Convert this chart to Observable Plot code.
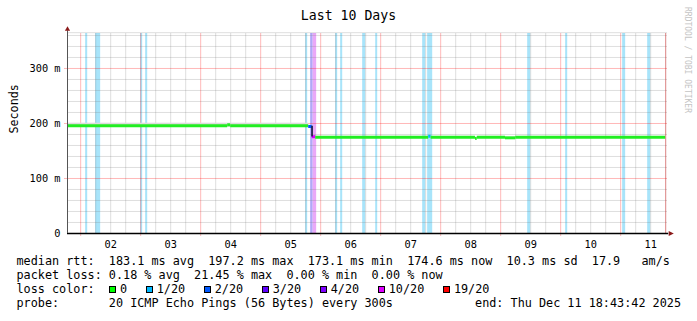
<!DOCTYPE html>
<html><head><meta charset="utf-8">
<script src="https://cdn.jsdelivr.net/npm/d3@7"></script>
<script src="https://cdn.jsdelivr.net/npm/@observablehq/plot@0.6"></script>
<style>
html,body{margin:0;padding:0;background:#fff;}
#wrap{position:relative;width:697px;height:321px;overflow:hidden;font-family:"DejaVu Sans Mono",monospace;color:#000;}
#wrap svg{position:absolute;left:0;top:0;overflow:visible;}
.title{position:absolute;left:0;top:7.7px;width:697px;text-align:center;font-size:13.2px;line-height:16px;white-space:pre;}
.wm{position:absolute;left:682.5px;top:7px;writing-mode:vertical-rl;font-size:8px;line-height:8px;color:#c4c4c4;white-space:pre;}
.row{position:absolute;left:16.5px;height:14px;font-size:11.8px;line-height:14px;white-space:pre;}
.rowr{position:absolute;right:16px;height:14px;font-size:11.8px;line-height:14px;white-space:pre;}
.sws{position:absolute;left:109px;height:14px;display:flex;align-items:center;font-size:11.8px;line-height:14px;white-space:pre;}
.item{display:flex;align-items:center;margin-right:18.6px;}
.sw{display:inline-block;width:7px;height:7px;box-sizing:border-box;border:1px solid #000;margin-right:4px;}
</style></head>
<body><div id="wrap"></div>
<script>
// ---- data ----
const titleText = "Last 10 Days";
const yLabel = "Seconds";
const watermark = "RRDTOOL / TOBI OETIKER";
// time axis in "day of December" units
const xStart = 1 + (18 + 43/60 + 42/3600) / 24;   // Dec 1 18:43:42
const xEnd = xStart + 10;                          // Dec 11 18:43:42
const lastUpdate = 11.75;
const dayTicks = [2, 3, 4, 5, 6, 7, 8, 9, 10, 11];
const dayLabelPos = [2.5, 3.5, 4.5, 5.5, 6.5, 7.5, 8.5, 9.5, 10.5, 11.5];
const dayLabels = ["02", "03", "04", "05", "06", "07", "08", "09", "10", "11"];
const yMax = 363.6; // ms
const yTicks = [0, 100, 200, 300];
const yTickLabels = ["0", "100 m", "200 m", "300 m"];

// loss background bars
const lossStart = [2.083, 2.25, 3.0, 3.083, 5.75, 5.833, 5.875, 6.25, 6.333, 6.7, 6.917, 7.7, 7.783, 9.45, 10.083, 11.033, 11.45];
const lossEnd   = [2.117, 2.333, 3.033, 3.117, 5.783, 5.875, 5.933, 6.283, 6.367, 6.75, 6.95, 7.75, 7.867, 9.5, 10.117, 11.083, 11.5];
const lossLevel = [1, 1, 1, 1, 1, 4, 10, 1, 1, 1, 1, 1, 1, 1, 1, 1, 1];

// median rtt segments (ms)
const medX1   = [xStart, 4.45, 4.50, 5.80, 5.858, 5.917, 7.80, 7.84, 8.58, 8.61, 9.08, 9.25];
const medX2   = [4.45, 4.50, 5.80, 5.858, 5.917, 7.80, 7.84, 8.58, 8.61, 9.08, 9.25, lastUpdate];
const medY    = [196, 197.6, 196, 194.5, 176, 175, 176.8, 175, 173, 175, 174, 175];
const medLoss = [0, 0, 0, 2, 10, 0, 1, 0, 0, 0, 0, 0];
const stepX = [5.856], stepFrom = [195], stepTo = [175.5];

// smoke band
const smokeX1 = [xStart], smokeX2 = [5.80], smokeLo = [193], smokeHi = [200.5];

// legend
const lossLevels = [0, 1, 2, 3, 4, 10, 19];
const lossLabels = ["0", "1/20", "2/20", "3/20", "4/20", "10/20", "19/20"];
const lossColors = ["#22ee22", "#00b8ff", "#0059ff", "#5e00ff", "#7e00ff", "#dd00ff", "#ff0000"];
const lossBgColors = ["#ffffff", "#a8e4fa", "#a8c4fa", "#b0a8f8", "#b0a8f8", "#eaa8f8", "#f8a8a8"];
const rttStats = ["183.1 ms avg", "197.2 ms max", "173.1 ms min", "174.6 ms now", "10.3 ms sd", "17.9   am/s"];
const lossStats = ["0.18 % avg", "21.45 % max", "0.00 % min", "0.00 % now"];
const probeText = "20 ICMP Echo Pings (56 Bytes) every 300s";
const endText = "end: Thu Dec 11 18:43:42 2025";

// ---- drawing ----
const lvlColor = l => lossColors[lossLevels.indexOf(l)];
const lvlBg = l => lossBgColors[lossLevels.indexOf(l)];
const minorX = d3.range(1.75, 11.8, 0.25).filter(d => d > xStart && d < xEnd && !dayTicks.includes(d));
const minorY = d3.range(20, 361, 20).filter(d => !yTicks.includes(d));
const idx = a => a.map((_, i) => i);

const triUp = {draw(c){ c.moveTo(0, -2.4); c.lineTo(2.6, 2.3); c.lineTo(-2.6, 2.3); c.closePath(); }};
const triRight = {draw(c){ c.moveTo(3.3, 0); c.lineTo(-1.8, -2.6); c.lineTo(-1.8, 2.6); c.closePath(); }};

const chart = Plot.plot({
  width: 697, height: 250,
  marginLeft: 67, marginRight: 30, marginTop: 33, marginBottom: 17,
  x: {domain: [xStart, xEnd], axis: null},
  y: {domain: [0, yMax], axis: null},
  color: {type: "identity"},
  style: {fontFamily: "'DejaVu Sans Mono', monospace", fontSize: "10.3px", color: "#000", background: "transparent", overflow: "visible"},
  marks: [
    Plot.rect(idx(lossStart), {x1: i => lossStart[i], x2: i => lossEnd[i], y1: 0, y2: yMax, fill: i => lvlBg(lossLevel[i])}),
    Plot.ruleX(minorX, {y1: 0, y2: yMax, stroke: "#808080", strokeOpacity: 0.25}),
    Plot.ruleY(minorY, {x1: xStart, x2: xEnd, stroke: "#808080", strokeOpacity: 0.25}),
    Plot.ruleY([yMax + 1.5], {x1: xStart, x2: xEnd, stroke: "#808080", strokeOpacity: 0.25}),
    Plot.ruleX(dayTicks, {y1: -5.5, y2: yMax, stroke: "#ff0000", strokeOpacity: 0.28}),
    Plot.ruleY(yTicks.slice(1), {x1: xStart - 0.05, x2: xEnd, stroke: "#ff0000", strokeOpacity: 0.28}),
    Plot.ruleX([lastUpdate], {y1: 0, y2: yMax, stroke: "#e02020", strokeOpacity: 0.45}),
    Plot.rect(idx(smokeX1), {x1: i => smokeX1[i], x2: i => smokeX2[i], y1: i => smokeLo[i], y2: i => smokeHi[i], fill: "#dcdcdc"}),
    Plot.ruleY(idx(medY), {y: i => medY[i], x1: i => medX1[i], x2: i => medX2[i], stroke: i => lvlColor(medLoss[i]), strokeWidth: 3}),
    Plot.ruleX(idx(stepX), {x: i => stepX[i], y1: i => stepFrom[i], y2: i => stepTo[i], stroke: "#14143a", strokeWidth: 1.6}),
    Plot.ruleY([0], {x1: xStart, x2: xEnd + 0.02, stroke: "#000", strokeWidth: 1.5}),
    Plot.ruleX([xStart], {y1: 0, y2: yMax + 5, stroke: "#555"}),
    Plot.dot([0], {x: xEnd + 0.05, y: 0, symbol: triRight, fill: "#8b1a1a", stroke: null, r: 3}),
    Plot.dot([0], {x: xStart, y: yMax + 9, symbol: triUp, fill: "#8b1a1a", stroke: null, r: 3}),
    Plot.axisX(dayLabelPos, {tickSize: 0, tickPadding: 7, tickFormat: d => dayLabels[dayLabelPos.indexOf(d)], fontSize: 10.3}),
    Plot.axisY(yTicks, {tickSize: 0, tickPadding: 7, tickFormat: d => yTickLabels[yTicks.indexOf(d)], fontSize: 10.3, label: null}),
    Plot.text([yLabel], {frameAnchor: "left", dx: -53, rotate: -90, fontSize: 11.7, fill: "#000"})
  ]
});

const wrap = document.getElementById("wrap");
wrap.appendChild(chart);

function addDiv(cls, text, style) {
  const d = document.createElement("div");
  d.className = cls;
  if (text != null) d.textContent = text;
  if (style) d.setAttribute("style", style);
  wrap.appendChild(d);
  return d;
}
addDiv("title", titleText);
addDiv("wm", watermark);
addDiv("row", "median rtt:  " + rttStats.join("  "), "top:254px");
addDiv("row", "packet loss: " + lossStats.join("  "), "top:268px");
addDiv("row", "loss color:", "top:282px");
const sws = addDiv("sws", null, "top:282px");
lossLevels.forEach((l, i) => {
  const it = document.createElement("span");
  it.className = "item";
  const b = document.createElement("span");
  b.className = "sw";
  b.style.background = lossColors[i] === "#22ee22" ? "#00ff00" : lossColors[i];
  it.appendChild(b);
  it.appendChild(document.createTextNode(lossLabels[i]));
  sws.appendChild(it);
});
addDiv("row", "probe:       " + probeText, "top:296px");
addDiv("rowr", endText, "top:296px");
</script>
</body></html>
